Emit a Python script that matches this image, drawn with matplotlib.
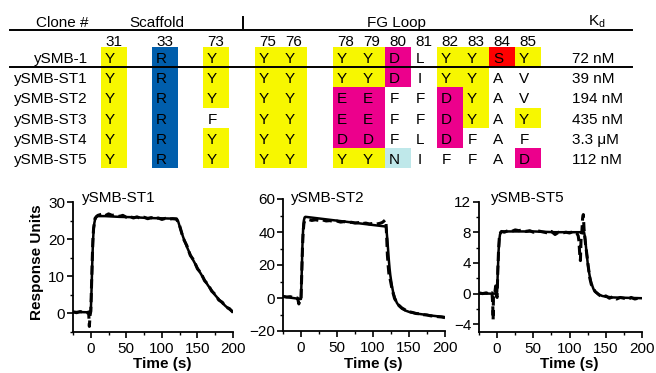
import matplotlib
matplotlib.use('Agg')
import matplotlib.pyplot as plt
from matplotlib.patches import Rectangle
from matplotlib.ticker import MultipleLocator

plt.rcParams['font.family'] = ['Liberation Sans', 'DejaVu Sans']
plt.rcParams['mathtext.fontset'] = 'custom'
plt.rcParams['mathtext.rm'] = 'Liberation Sans'
plt.rcParams['mathtext.it'] = 'Liberation Sans'

# ---- table data ----
positions = ['31', '33', '73', '75', '76', '78', '79', '80', '81', '82', '83', '84', '85']
clones = ['ySMB-1', 'ySMB-ST1', 'ySMB-ST2', 'ySMB-ST3', 'ySMB-ST4', 'ySMB-ST5']
seqs = ['YRYYYYYDLYYSY',
        'YRYYYYYDIYYAV',
        'YRYYYEEFFDYAV',
        'YRFYYEEFFDYAY',
        'YRYYYDDFLDFAF',
        'YRYYYYYNIFFAD']
kd = ['72 nM', '39 nM', '194 nM', '435 nM', '3.3 μM', '112 nM']

# ---- sensorgram data ----
st1_fit_t = [-25, -1, 0, 1, 2, 3, 4, 5, 6, 8, 10, 20, 40, 60, 80, 100, 121,
             123, 126, 130, 135, 140, 145, 150, 155, 160, 165, 170, 175, 180, 185, 190, 195, 200]
st1_fit_y = [0.4, 0.3, 0.3, 6, 13, 19, 22.5, 24.3, 25.3, 26.0, 26.2, 26.2, 26.0, 25.9, 25.7, 25.6, 25.5,
             24.7, 22.8, 20.5, 18.0, 15.8, 14.0, 12.2, 10.6, 9.0, 7.5, 6.2, 4.9, 3.8, 2.8, 1.9, 1.1, 0.4]
st1_dat_t = [-25, -20, -15, -10, -5, -3, -2, -1, 0, 1, 2, 3, 4, 6, 8, 10, 15, 20, 25, 30, 35, 40, 45,
             50, 55, 60, 65, 70, 75, 80, 85, 90, 95, 100, 105, 110, 115, 120, 122, 125, 130, 135, 140,
             145, 150, 155, 160, 165, 170, 175, 180, 185, 190, 195, 200]
st1_dat_y = [0.4, 0.2, 0.5, 0.3, 0.2, 0.4, -3.5, -0.5, 0.6, 7, 14, 20, 23, 25.6, 26.1, 26.4, 26.7, 26.3,
             26.8, 26.4, 26.6, 26.1, 26.4, 25.9, 26.1, 25.7, 26.0, 25.6, 25.9, 25.5, 25.8, 25.5, 25.7,
             25.3, 25.6, 25.4, 25.5, 25.4, 24.9, 23.6, 20.2, 18.3, 15.6, 14.3, 12.0, 10.9, 8.8, 7.8,
             6.0, 5.1, 3.6, 3.0, 1.7, 1.3, 0.3]

st2_fit_t = [-25, -1, 0, 1, 2, 3, 4, 5, 6, 10, 40, 80, 118, 119, 120, 121, 122, 123, 124, 126, 128,
             130, 133, 136, 140, 145, 150, 160, 170, 180, 190, 200]
st2_fit_y = [0.8, -0.6, -0.6, 15, 32, 42, 47, 48.8, 49.2, 49.0, 47.4, 45.3, 43.3, 40, 35, 29, 23,
             18, 14, 8, 3.5, 0.5, -2.8, -4.8, -6.4, -7.6, -8.4, -9.4, -10.0, -10.6, -11.1, -11.6]
st2_dat_t = [-25, -20, -15, -10, -5, -4, -3, -2, -1, 0, 1, 2, 3, 4, 5, 8, 10, 15, 20, 25, 30, 35, 40,
             45, 50, 55, 60, 65, 70, 75, 80, 85, 90, 95, 100, 105, 110, 113, 115, 117, 118, 119, 120,
             121, 122, 124, 126, 128, 130, 135, 140, 145, 150, 155, 160, 165, 170, 175, 180, 185, 190,
             195, 200]
st2_dat_y = [1.0, 0.6, 0.8, 0.2, 0.0, -1.5, -3.6, -1.0, -0.4, -0.3, 14, 30, 40, 45, 46.8, 47.2, 47.6,
             47.0, 47.4, 47.0, 47.3, 46.7, 46.9, 46.4, 46.6, 46.0, 46.3, 45.7, 45.9, 45.4, 45.7, 45.1,
             45.4, 44.9, 45.2, 44.8, 45.3, 45.8, 46.5, 47.3, 46.0, 37, 26, 20, 15, 11, 6.5, 2.8, -0.4,
             -4.0, -6.0, -7.3, -8.3, -8.8, -9.4, -9.6, -10.1, -10.3, -10.8, -11.0, -11.3, -11.5, -11.9]

st5_fit_t = [-25, -1, 0, 1, 2, 3, 4, 5, 8, 20, 50, 80, 110, 120, 121, 122, 123, 124, 125, 126, 128,
             130, 133, 136, 140, 145, 150, 160, 180, 200]
st5_fit_y = [0, 0, 0.2, 3, 5.5, 7.0, 7.7, 8.0, 8.1, 8.1, 8.1, 8.0, 8.0, 8.0, 7.5, 6.7, 5.8, 4.9, 4.0,
             3.3, 2.2, 1.4, 0.6, 0.2, -0.1, -0.3, -0.4, -0.5, -0.55, -0.6]
st5_dat_t = [-25, -20, -15, -10, -7, -6, -5.5, -5, -3, -2, -1, 0, 1, 2, 3, 4, 6, 10, 15, 20, 25, 30,
             35, 40, 45, 50, 55, 60, 65, 70, 75, 80, 85, 90, 95, 100, 105, 110, 112, 113, 114, 115,
             116, 117, 118, 119, 120, 122, 124, 126, 128, 130, 135, 140, 145, 150, 155, 160, 165,
             170, 175, 180, 185, 190, 195, 200]
st5_dat_y = [0.1, 0.0, 0.1, -0.1, 0.1, -1.5, -3.4, 0.1, 0.2, 1.0, -0.3, -0.5, 3.2, 5.6, 7.2, 7.8, 8.1,
             8.0, 8.2, 8.1, 8.3, 8.2, 8.3, 8.1, 8.2, 8.0, 8.2, 8.1, 8.0, 7.9, 8.1, 7.7, 8.0, 7.9, 8.0,
             7.9, 8.1, 7.9, 7.5, 6.8, 5.2, 4.3, 7.6, 8.0, 9.8, 10.3, 8.4, 6.5, 5.0, 3.4, 2.0, 1.2,
             0.3, -0.1, -0.5, -0.3, -0.6, -0.4, -0.7, -0.5, -0.6, -0.8, -0.5, -0.7, -0.6, -0.7]

W, H = 656, 373
fig = plt.figure(figsize=(W / 100, H / 100), dpi=100)

# overlay in pixel coords for the table, titles and labels
ax0 = fig.add_axes([0, 0, 1, 1], zorder=10)
ax0.set_xlim(0, W)
ax0.set_ylim(H, 0)
ax0.axis('off')
ax0.patch.set_visible(False)

cell_color = {'Y': '#f7f700', 'R': '#005eac', 'D': '#ec008c', 'E': '#ec008c',
              'S': '#ff0000', 'N': '#bfe8ea'}
col_left = [101, 152, 203, 255, 281, 333, 359, 385, 411, 437, 463, 489, 515]
cw = 26
row_top = [47 + i * 20.2 for i in range(len(clones))]
rh = 20.2
fs = 11

ax0.text(62, 27, 'Clone #', ha='center', fontsize=fs)
ax0.text(157, 27, 'Scaffold', ha='center', fontsize=fs)
ax0.text(396, 27, 'FG Loop', ha='center', fontsize=fs)
ax0.text(588, 26, r'K$_\mathrm{d}$', ha='left', fontsize=fs)
ax0.plot([243, 243], [17, 28], color='k', lw=1.4)
ax0.plot([10, 632], [30, 30], color='k', lw=1.4)
ax0.plot([10, 632], [67, 67], color='k', lw=1.4)

for p, x in zip(positions, col_left):
    ax0.text(x + cw / 2, 46.5, p, ha='center', fontsize=fs)

for i, (name, seq, k) in enumerate(zip(clones, seqs, kd)):
    y = row_top[i]
    ax0.text(88, y + 16, name, ha='right', fontsize=fs)
    ax0.text(572, y + 16, k, ha='left', fontsize=fs)
    for aa, x in zip(seq, col_left):
        if aa in cell_color:
            ax0.add_patch(Rectangle((x, y), cw, rh, facecolor=cell_color[aa],
                                    edgecolor='none', zorder=1))
        ax0.text(x + 9, y + 16, aa, ha='center', fontsize=fs, zorder=2)

# ---- sensorgrams ----
boxes = [(73, 202, 233, 332), (283, 199, 445, 331), (479, 201.5, 642, 332)]
ylims = [(-5, 30), (-20, 60), (-5, 12)]
ymaj = [10, 20, 4]
titles = ['ySMB-ST1', 'ySMB-ST2', 'ySMB-ST5']
title_x = [82, 291, 491]
curves = [(st1_fit_t, st1_fit_y, st1_dat_t, st1_dat_y),
          (st2_fit_t, st2_fit_y, st2_dat_t, st2_dat_y),
          (st5_fit_t, st5_fit_y, st5_dat_t, st5_dat_y)]

for i, (l, t, r, b) in enumerate(boxes):
    ax = fig.add_axes([l / W, 1 - b / H, (r - l) / W, (b - t) / H])
    ft, fy, dt, dy = curves[i]
    ax.plot(dt, dy, color='k', lw=2.2, ls=(0, (3, 1.5)))
    ax.plot(ft, fy, color='k', lw=1.8)
    ax.set_xlim(-25, 200)
    ax.set_ylim(*ylims[i])
    ax.set_xticks([0, 50, 100, 150, 200])
    ax.xaxis.set_minor_locator(MultipleLocator(25))
    ax.yaxis.set_major_locator(MultipleLocator(ymaj[i]))
    ax.yaxis.set_minor_locator(MultipleLocator(ymaj[i] / 2))
    for s in ['top', 'right']:
        ax.spines[s].set_visible(False)
    for s in ['left', 'bottom']:
        ax.spines[s].set_linewidth(1.3)
    ax.tick_params(which='major', direction='out', length=4, width=1.2, labelsize=11)
    ax.tick_params(which='minor', direction='out', length=2.5, width=1.0)
    ax.tick_params(axis='y', pad=1.5)
    ax.tick_params(axis='x', pad=3)
    ax0.text(title_x[i], 202, titles[i], fontsize=fs)
    ax0.text(l + (100 + 25) / 225 * (r - l), 364, 'Time (s)', ha='center', va='center',
             fontsize=fs, fontweight='bold')

ax0.text(37, 262, 'Response Units', rotation=90, ha='center', va='center',
         fontsize=fs, fontweight='bold')

fig.savefig('out.png', dpi=100)
